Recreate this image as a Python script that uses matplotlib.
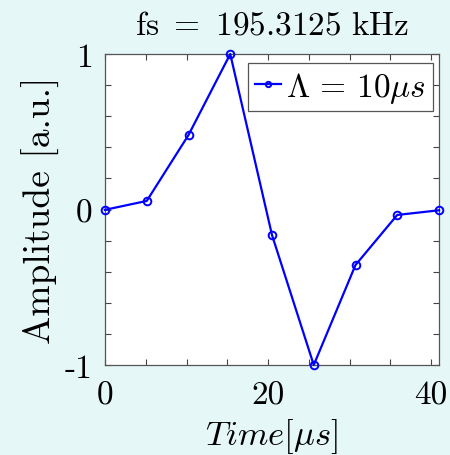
import numpy as np
import matplotlib
matplotlib.use("Agg")
import matplotlib.pyplot as plt
from matplotlib.ticker import MultipleLocator, FixedLocator, FixedFormatter

plt.rcParams['font.family'] = ['cmr10', 'DejaVu Serif']
plt.rcParams['mathtext.fontset'] = 'cm'
plt.rcParams['axes.unicode_minus'] = False
plt.rcParams['axes.formatter.use_mathtext'] = True

# data
time_us = [0.0, 5.12, 10.24, 15.36, 20.48, 25.60, 30.72, 35.84, 40.96]
amplitude = [-0.002, 0.055, 0.479, 1.0, -0.164, -1.0, -0.357, -0.035, -0.005]
series_label = r'$\Lambda\,=\,10\mu s$'
xtick_vals = [0, 20, 40]
xtick_labels = ['0', '20', '40']
ytick_vals = [-1, 0, 1]
ytick_labels = ['-1', '0', '1']
title_text = r'$\mathrm{fs}\ =\ 195.3125\ \mathrm{kHz}$'
xlabel_text = r'$Time[\mu s]$'
ylabel_text = 'Amplitude [a.u.]'

bg = '#e6f7f7'
fig = plt.figure(figsize=(4.5, 4.56), dpi=100, facecolor=bg)
ax = fig.add_axes([105/450, 1-366/456, (439-105)/450, (366-55)/456])
ax.set_facecolor('white')

ax.plot(time_us, amplitude, color='#0000ff', lw=1.6, marker='o', ms=5.5,
        mfc='none', mec='#0000ff', mew=1.4, label=series_label, clip_on=False, zorder=3)

ax.set_xlim(0, 40.96)
ax.set_ylim(-1, 1)
ax.xaxis.set_major_locator(FixedLocator(xtick_vals))
ax.xaxis.set_major_formatter(FixedFormatter(xtick_labels))
ax.yaxis.set_major_locator(FixedLocator(ytick_vals))
ax.yaxis.set_major_formatter(FixedFormatter(ytick_labels))
ax.xaxis.set_minor_locator(MultipleLocator(5))
ax.yaxis.set_minor_locator(MultipleLocator(0.2))
ax.tick_params(which='both', direction='in', top=True, right=True,
               length=4, width=0.8, color='#444444')
ax.tick_params(which='major', labelsize=24)
ax.tick_params(axis='y', which='major', pad=9)
ax.tick_params(axis='x', which='major', pad=11)
for s in ax.spines.values():
    s.set_color('#555555')
    s.set_linewidth(0.9)

ax.set_title(title_text, fontsize=24, pad=15)
ax.set_xlabel(xlabel_text, fontsize=25, labelpad=5)
ax.set_ylabel(ylabel_text, fontsize=27, labelpad=3)

leg = ax.legend(loc='upper right', bbox_to_anchor=(1 - 6/334, 1 - 9/311),
                fontsize=24, frameon=True, fancybox=False,
                edgecolor='#555555', facecolor='white', framealpha=1,
                handlelength=0.8, handletextpad=0.15, borderpad=0.2,
                borderaxespad=0.0, markerscale=0.7)
leg.get_frame().set_linewidth(0.9)

fig.savefig('out.png', dpi=100, facecolor=bg)
